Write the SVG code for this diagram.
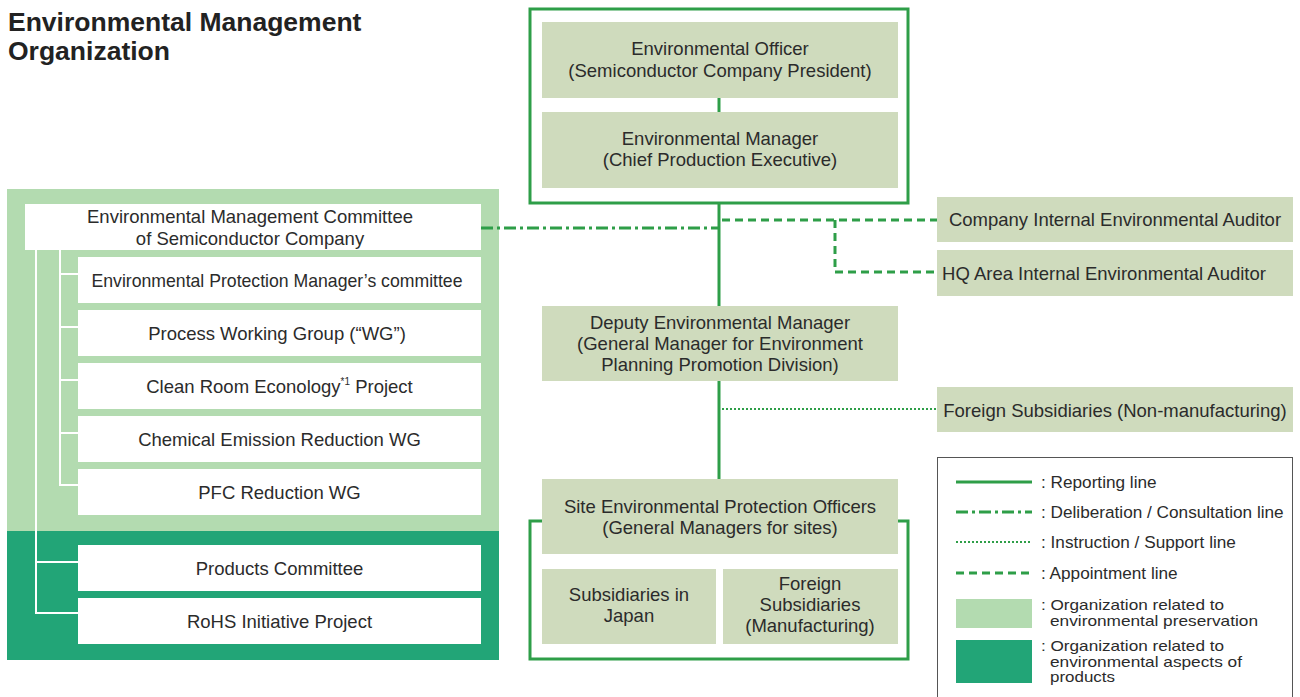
<svg xmlns="http://www.w3.org/2000/svg" width="1300" height="697" viewBox="0 0 1300 697">
<style>
text{font-family:"Liberation Sans",Arial,sans-serif;fill:#2b2b2b;font-size:18.5px}
.t{font-size:26.5px;font-weight:bold;fill:#222}
.c{text-anchor:middle}
.lg{font-size:17.2px}
.lm{font-size:15px}
.nd{fill:#cfdbbd}
.wb{fill:#ffffff}
.rep{stroke:#2e9e48;stroke-width:3;fill:none}
.dd{stroke:#2e9e48;stroke-width:3;fill:none;stroke-dasharray:12 4 3 4}
.dot{stroke:#2e9e48;stroke-width:2;fill:none;stroke-dasharray:2 2}
.dsh{stroke:#2e9e48;stroke-width:3;fill:none;stroke-dasharray:8 5}
.wl{stroke:#ffffff;stroke-width:2;fill:none}
</style>
<rect width="1300" height="697" fill="#ffffff"/>
<text class="t" x="8" y="31">Environmental Management</text>
<text class="t" x="8" y="60">Organization</text>

<!-- panels -->
<rect x="7" y="189" width="492" height="342" fill="#b3dbb0"/>
<rect x="7" y="531" width="492" height="129" fill="#22a577"/>

<!-- borders of right groups -->
<rect x="530" y="9" width="378" height="194" class="rep" stroke-width="2.5"/>
<rect x="530" y="521" width="378" height="138" class="rep" stroke-width="2.5"/>

<g id="connectors">
<polyline class="wl" points="36,250 36,613 78,613"/>
<line class="wl" x1="36" y1="562" x2="78" y2="562"/>
<polyline class="wl" points="60,250 60,485 78,485"/>
<line class="wl" x1="60" y1="274" x2="78" y2="274"/>
<line class="wl" x1="60" y1="327" x2="78" y2="327"/>
<line class="wl" x1="60" y1="380" x2="78" y2="380"/>
<line class="wl" x1="60" y1="433" x2="78" y2="433"/>
<line class="rep" x1="719" y1="98" x2="719" y2="112"/>
<line class="rep" x1="719" y1="203" x2="719" y2="479"/>
<line class="dd" x1="481" y1="228" x2="718" y2="228"/>
<line class="dsh" x1="722" y1="220" x2="937" y2="220"/>
<polyline class="dsh" points="835,220 835,272 937,272"/>
<line class="dot" x1="722" y1="409" x2="937" y2="409"/>
</g>

<g id="committee"><rect class="wb" x="25" y="204" width="456" height="46"/>
<text class="c" x="250" y="223">Environmental Management Committee</text>
<text class="c" x="250" y="245">of Semiconductor Company</text></g>
<g id="epm"><rect class="wb" x="78" y="257" width="403" height="46"/><text class="c" x="277" y="287" textLength="371" lengthAdjust="spacingAndGlyphs">Environmental Protection Manager’s committee</text></g>
<g id="pwg"><rect class="wb" x="78" y="310" width="403" height="46"/><text class="c" x="277" y="340">Process Working Group (“WG”)</text></g>
<g id="cre"><rect class="wb" x="78" y="363" width="403" height="46"/><text class="c" x="279.5" y="393">Clean Room Econology<tspan font-size="10" dy="-8">*1</tspan><tspan dy="8"> Project</tspan></text></g>
<g id="cer"><rect class="wb" x="78" y="416" width="403" height="46"/><text class="c" x="279.5" y="446">Chemical Emission Reduction WG</text></g>
<g id="pfc"><rect class="wb" x="78" y="469" width="403" height="46"/><text class="c" x="279.5" y="499">PFC Reduction WG</text></g>
<g id="prod"><rect class="wb" x="78" y="545" width="403" height="46"/><text class="c" x="279.5" y="575">Products Committee</text></g>
<g id="rohs"><rect class="wb" x="78" y="598" width="403" height="46"/><text class="c" x="279.5" y="628">RoHS Initiative Project</text></g>

<g id="officer"><rect class="nd" x="542" y="22" width="356" height="76"/>
<text class="c" x="720" y="55">Environmental Officer</text>
<text class="c" x="720" y="77">(Semiconductor Company President)</text></g>
<g id="manager"><rect class="nd" x="542" y="112" width="356" height="76"/>
<text class="c" x="720" y="145">Environmental Manager</text>
<text class="c" x="720" y="166">(Chief Production Executive)</text></g>
<g id="deputy"><rect class="nd" x="542" y="306" width="356" height="75"/>
<text class="c" x="720" y="329">Deputy Environmental Manager</text>
<text class="c" x="720" y="350">(General Manager for Environment</text>
<text class="c" x="720" y="371">Planning Promotion Division)</text></g>
<g id="site"><rect class="nd" x="542" y="479" width="356" height="75"/>
<text class="c" x="720" y="513">Site Environmental Protection Officers</text>
<text class="c" x="720" y="534">(General Managers for sites)</text></g>
<g id="subjp"><rect class="nd" x="542" y="569" width="174" height="75"/>
<text class="c" x="629" y="601">Subsidiaries in</text>
<text class="c" x="629" y="622">Japan</text></g>
<g id="subfm"><rect class="nd" x="723" y="569" width="175" height="75"/>
<text class="c" x="810" y="590">Foreign</text>
<text class="c" x="810" y="611">Subsidiaries</text>
<text class="c" x="810" y="632">(Manufacturing)</text></g>
<g id="cia"><rect class="nd" x="937" y="197" width="356" height="45"/>
<text class="c" x="1115" y="226">Company Internal Environmental Auditor</text></g>
<g id="hqa"><rect class="nd" x="937" y="250" width="356" height="46"/>
<text class="c" x="1104" y="280">HQ Area Internal Environmental Auditor</text></g>
<g id="fsn"><rect class="nd" x="937" y="387" width="356" height="45"/>
<text class="c" x="1115" y="417">Foreign Subsidiaries (Non-manufacturing)</text></g>

<g id="legend">
<rect x="937.5" y="457.5" width="355" height="245" fill="none" stroke="#555" stroke-width="1"/>
<line class="rep" x1="956" y1="482" x2="1032" y2="482"/>
<line class="dd" x1="956" y1="512" x2="1032" y2="512"/>
<line class="dot" x1="956" y1="542" x2="1032" y2="542"/>
<line class="dsh" x1="956" y1="573" x2="1032" y2="573"/>
<rect x="956" y="599" width="76" height="29" fill="#b3dbb0"/>
<rect x="956" y="640" width="76" height="43" fill="#22a577"/>
<text class="lg" x="1041" y="488">: Reporting line</text>
<text class="lg" x="1041" y="518">: Deliberation / Consultation line</text>
<text class="lg" x="1041" y="548">: Instruction / Support line</text>
<text class="lg" x="1041" y="579">: Appointment line</text>
<text class="lm" x="1041" y="610" textLength="183" lengthAdjust="spacingAndGlyphs">: Organization related to</text>
<text class="lm" x="1050" y="625.5" textLength="208" lengthAdjust="spacingAndGlyphs">environmental preservation</text>
<text class="lm" x="1041" y="651" textLength="183" lengthAdjust="spacingAndGlyphs">: Organization related to</text>
<text class="lm" x="1050" y="666.5" textLength="192" lengthAdjust="spacingAndGlyphs">environmental aspects of</text>
<text class="lm" x="1050" y="682" textLength="65" lengthAdjust="spacingAndGlyphs">products</text>
</g>
</svg>
